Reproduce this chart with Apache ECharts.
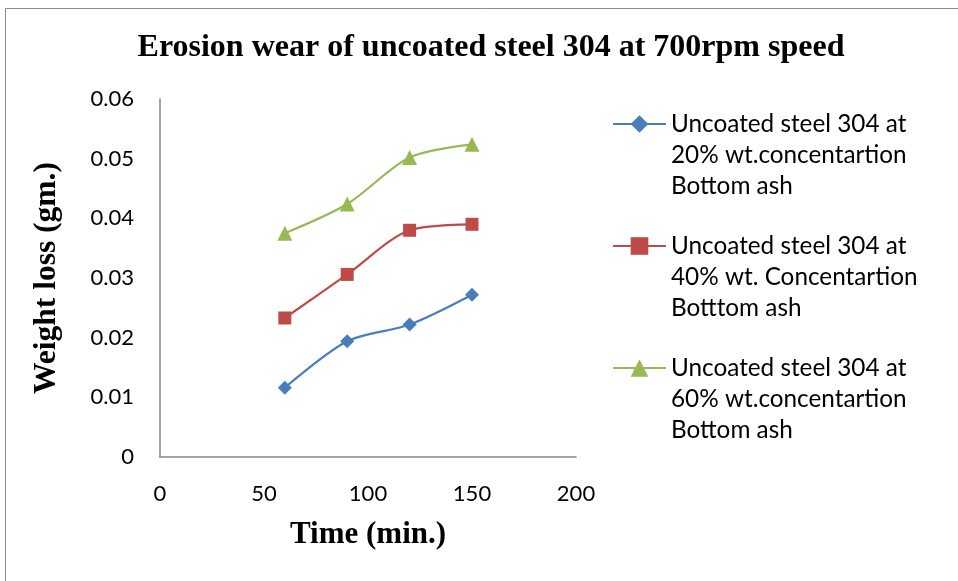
<!DOCTYPE html>
<html><head><meta charset="utf-8">
<script src="https://cdn.jsdelivr.net/npm/echarts@6/dist/echarts.min.js"></script>
<style>html,body{margin:0;padding:0;background:#fff}#c{width:958px;height:581px}</style>
</head><body><div id="c"></div>
<script>
const times = [60, 90, 120, 150];
const names = [
  'Uncoated steel 304 at\n20% wt.concentartion\nBottom ash',
  'Uncoated steel 304 at\n40% wt. Concentartion\nBotttom ash',
  'Uncoated steel 304 at\n60% wt.concentartion\nBottom ash'
];
const ash20 = [0.0116, 0.0194, 0.0222, 0.0272];
const ash40 = [0.0233, 0.0306, 0.0380, 0.0390];
const ash60 = [0.0375, 0.0424, 0.0502, 0.0524];
const xTicks = [0, 50, 100, 150, 200];
const yTicks = [0, 0.01, 0.02, 0.03, 0.04, 0.05, 0.06];

const colors = ['#4A7EBB', '#BE4B48', '#98B954'];
const symbols = ['diamond', 'rect', 'triangle'];
const sizes = [14, 13, 15];
const values = [ash20, ash40, ash60];

const chart = echarts.init(document.getElementById('c'));
const LH = 31;
const legendFont = {fontFamily: 'Lato', fontSize: 24.3, color: '#000', lineHeight: LH};
const iconY = [124, 246, 368];
chart.setOption({
  animation: false,
  title: {
    text: 'Erosion wear of uncoated steel 304 at 700rpm speed',
    left: 486, top: 27, textAlign: 'center',
    textStyle: {fontFamily: 'Liberation Serif', fontWeight: 'bold', fontSize: 32, color: '#000'}
  },
  graphic: [{type: 'rect', shape: {x: 5.5, y: 8.5, width: 960, height: 600}, style: {fill: 'none', stroke: '#8c8c8c', lineWidth: 1}, silent: true}],
  legend: names.map((n, i) => ({
    data: [n], orient: 'vertical', left: 607, top: iconY[i] - 5 * LH / 2 - 5,
    itemWidth: 53, itemHeight: 22, itemGap: 0,
    formatter: s => '\n\n' + s,
    textStyle: legendFont
  })),
  grid: {left: 160, top: 99, right: 382, bottom: 124},
  xAxis: {
    type: 'value', min: 0, max: 200, interval: 50,
    name: 'Time (min.)', nameLocation: 'middle', nameGap: 62,
    nameTextStyle: {fontFamily: 'Liberation Serif', fontWeight: 'bold', fontSize: 31, color: '#000'},
    axisLine: {lineStyle: {color: '#868686', width: 1.5}},
    axisTick: {show: false}, splitLine: {show: false},
    axisLabel: {fontFamily: 'Lato', fontSize: 22, color: '#000', margin: 26,
      formatter: v => xTicks.includes(v) ? String(v) : ''}
  },
  yAxis: {
    type: 'value', min: 0, max: 0.06, interval: 0.01,
    name: 'Weight loss (gm.)', nameLocation: 'middle', nameGap: 97, nameRotate: 90,
    nameTextStyle: {fontFamily: 'Liberation Serif', fontWeight: 'bold', fontSize: 31.5, color: '#000'},
    axisLine: {show: true, lineStyle: {color: '#868686', width: 1.5}},
    axisTick: {show: false}, splitLine: {show: false},
    axisLabel: {fontFamily: 'Lato', fontSize: 22, color: '#000', margin: 26,
      formatter: v => { const t = yTicks.find(y => Math.abs(y - v) < 1e-9); return t === undefined ? '' : String(t); }}
  },
  series: names.map((n, i) => ({
    name: n, type: 'line', smooth: 0.3,
    data: times.map((t, j) => [t, values[i][j]]),
    symbol: symbols[i], symbolSize: sizes[i],
    lineStyle: {color: colors[i], width: 2.2},
    itemStyle: {color: colors[i]}
  }))
});
</script></body></html>
